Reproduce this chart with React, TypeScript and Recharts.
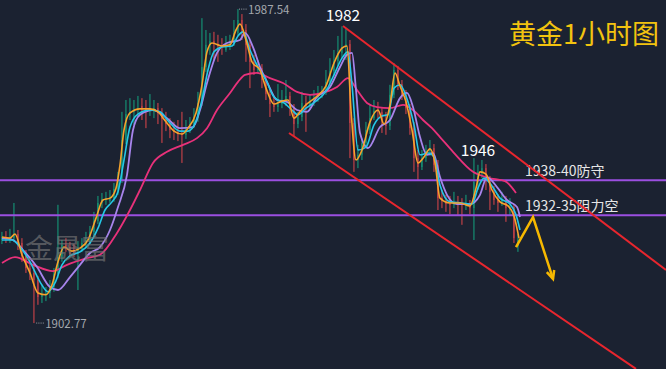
import React from 'react';
import {
  ComposedChart, Bar, Line, XAxis, YAxis, ReferenceLine, ReferenceDot,
} from 'recharts';

// ---- Candles (hourly XAUUSD), index 0..129 ----
const candleOpen = [
  1925.2, 1926.0, 1925.5, 1925.7, 1926.8, 1924.4, 1920.9, 1917.6, 1916.3, 1914.4,
  1909.8, 1910.4, 1910.9, 1912.5, 1916.0, 1920.6, 1923.9, 1923.3, 1922.5, 1922.2,
  1922.8, 1924.4, 1925.2, 1927.4, 1930.3, 1935.2, 1936.3, 1935.7, 1936.5, 1939.0,
  1941.4, 1952.2, 1959.2, 1959.8, 1960.3, 1961.4, 1960.6, 1960.3, 1960.0, 1960.8,
  1959.5, 1957.9, 1956.5, 1954.9, 1954.4, 1953.8, 1953.6, 1955.2, 1956.5, 1958.1,
  1962.2, 1971.9, 1977.9, 1978.9, 1978.1, 1977.6, 1976.5, 1977.3, 1978.4, 1981.1,
  1984.6, 1981.9, 1977.9, 1973.3, 1971.1, 1971.6, 1968.4, 1964.6, 1961.9, 1961.1,
  1961.9, 1963.0, 1964.1, 1960.8, 1956.5, 1958.4, 1962.2, 1961.4, 1962.5, 1963.5,
  1964.6, 1965.4, 1967.9, 1970.8, 1973.5, 1975.7, 1977.3, 1978.1, 1956.8, 1946.8,
  1948.2, 1951.4, 1954.9, 1958.1, 1960.0, 1959.8, 1957.6, 1956.0, 1964.4, 1971.1,
  1967.3, 1964.4, 1960.8, 1955.4, 1947.3, 1944.9, 1947.3, 1949.2, 1950.0, 1945.5,
  1936.5, 1935.7, 1934.9, 1934.7, 1935.5, 1935.2, 1934.7, 1934.9, 1933.8, 1940.9,
  1943.6, 1944.6, 1941.4, 1938.2, 1936.0, 1935.2, 1936.0, 1933.8, 1934.1, 1923.6,
];
const candleHigh = [
  1927.4, 1927.6, 1928.2, 1935.2, 1927.9, 1925.7, 1922.5, 1919.3, 1918.2, 1915.5,
  1913.1, 1912.5, 1914.4, 1917.6, 1934.7, 1925.2, 1925.7, 1924.7, 1924.1, 1924.9,
  1925.7, 1927.4, 1929.0, 1932.8, 1937.1, 1937.9, 1938.2, 1938.7, 1940.6, 1943.6,
  1959.8, 1963.0, 1963.5, 1963.0, 1964.1, 1963.5, 1963.0, 1964.6, 1963.0, 1962.2,
  1960.8, 1959.8, 1958.1, 1957.1, 1957.6, 1959.8, 1957.6, 1958.4, 1960.8, 1965.2,
  1985.1, 1981.9, 1981.1, 1981.4, 1980.6, 1979.7, 1980.3, 1980.6, 1984.6, 1987.54,
  1986.2, 1983.5, 1979.2, 1975.2, 1973.8, 1972.7, 1969.5, 1966.2, 1964.1, 1967.3,
  1965.7, 1968.4, 1965.2, 1961.9, 1959.8, 1965.2, 1964.1, 1964.4, 1965.7, 1966.8,
  1966.8, 1971.1, 1974.3, 1976.5, 1980.3, 1982.9, 1982.4, 1979.2, 1958.1, 1950.9,
  1952.7, 1957.1, 1961.7, 1963.0, 1962.5, 1960.8, 1959.8, 1967.1, 1973.0, 1972.2,
  1968.4, 1965.7, 1961.9, 1957.1, 1949.5, 1949.5, 1950.9, 1952.2, 1951.1, 1946.8,
  1938.7, 1937.4, 1937.1, 1938.2, 1937.1, 1936.5, 1937.4, 1936.0, 1947.3, 1945.5,
  1946.8, 1945.7, 1942.5, 1939.8, 1937.6, 1938.2, 1937.1, 1936.5, 1934.9, 1926.8,
];
const candleLow = [
  1924.1, 1924.4, 1924.4, 1924.7, 1922.5, 1919.3, 1916.3, 1914.4, 1902.77, 1907.7,
  1908.2, 1908.7, 1909.5, 1911.2, 1914.9, 1919.3, 1922.0, 1920.9, 1920.6, 1911.7,
  1922.0, 1923.0, 1924.1, 1926.3, 1929.5, 1933.8, 1934.7, 1935.2, 1935.5, 1937.4,
  1940.6, 1951.1, 1957.6, 1956.3, 1958.4, 1957.6, 1955.4, 1958.7, 1958.1, 1956.5,
  1951.4, 1954.6, 1952.7, 1952.2, 1951.9, 1946.0, 1952.5, 1954.1, 1955.4, 1957.1,
  1961.4, 1970.6, 1975.2, 1973.8, 1973.3, 1975.2, 1976.0, 1976.5, 1977.6, 1980.3,
  1979.2, 1973.3, 1966.2, 1969.8, 1970.0, 1966.2, 1963.0, 1958.4, 1959.8, 1959.8,
  1960.8, 1961.4, 1958.7, 1953.0, 1955.4, 1957.3, 1954.4, 1960.3, 1961.4, 1962.5,
  1963.5, 1964.4, 1966.8, 1969.5, 1972.2, 1974.3, 1973.8, 1947.3, 1943.6, 1944.6,
  1946.8, 1950.0, 1953.8, 1957.6, 1958.1, 1954.1, 1953.6, 1954.9, 1963.5, 1965.7,
  1963.0, 1959.2, 1953.6, 1943.6, 1941.4, 1944.1, 1946.3, 1947.9, 1943.6, 1933.3,
  1933.8, 1932.8, 1932.2, 1933.8, 1932.0, 1929.3, 1933.3, 1932.2, 1925.2, 1938.7,
  1941.9, 1938.7, 1933.3, 1934.7, 1932.8, 1934.4, 1930.1, 1932.0, 1924.4, 1922.0,
];
const candleClose = [
  1926.0, 1925.7, 1925.7, 1926.8, 1924.4, 1920.9, 1917.6, 1916.3, 1914.4, 1909.8,
  1910.4, 1910.9, 1912.5, 1916.0, 1920.6, 1923.9, 1923.3, 1922.5, 1922.2, 1922.8,
  1924.4, 1925.2, 1927.4, 1930.3, 1935.2, 1936.3, 1936.5, 1936.5, 1939.0, 1941.4,
  1952.2, 1959.2, 1959.8, 1960.3, 1960.6, 1960.6, 1960.3, 1960.8, 1960.8, 1959.5,
  1957.9, 1956.5, 1954.9, 1954.4, 1953.8, 1953.6, 1955.2, 1956.5, 1958.1, 1962.2,
  1971.9, 1977.9, 1978.9, 1978.1, 1977.6, 1977.3, 1977.3, 1978.4, 1981.1, 1984.6,
  1981.9, 1977.9, 1973.3, 1971.1, 1971.6, 1968.4, 1964.6, 1961.9, 1961.1, 1961.9,
  1963.0, 1964.1, 1960.8, 1956.5, 1958.4, 1962.2, 1961.4, 1962.5, 1963.5, 1964.6,
  1965.4, 1967.9, 1970.8, 1973.5, 1975.7, 1977.3, 1978.1, 1956.8, 1946.8, 1948.2,
  1951.4, 1954.9, 1958.1, 1960.0, 1959.8, 1957.6, 1956.0, 1964.4, 1971.1, 1967.3,
  1964.4, 1960.8, 1955.4, 1947.3, 1944.9, 1947.3, 1949.2, 1950.0, 1945.5, 1936.5,
  1935.7, 1934.9, 1934.7, 1935.5, 1935.2, 1934.7, 1934.9, 1933.8, 1940.9, 1943.6,
  1944.6, 1941.4, 1938.2, 1936.0, 1935.2, 1936.0, 1933.8, 1934.1, 1925.7, 1925.2,
];

// ---- Moving averages (at key points: bar index, price) ----
const maFastT = [0, 2, 3.25, 5, 7, 9, 11, 12.5, 14, 15.5, 17.5, 19.5, 21.5, 23.5, 25.25, 27, 28.5, 29.5, 30.5, 32, 34.5, 37, 39, 41, 43, 45, 46.5, 48.5, 50, 51.25, 52.5, 55, 57, 58.5, 59.5, 61, 62.5, 64.5, 66, 68, 70, 71.5, 73, 74.5, 76, 78.5, 81, 83, 85, 86.25, 87.25, 88.5, 90, 92, 94, 95.5, 97, 98.25, 99.5, 101, 102.5, 104, 105.5, 107, 108.25, 109.5, 112, 114.5, 117, 118.5, 119.5, 121, 122.5, 124.5, 126.5, 128, 129.25];
const maFastV = [1926.0, 1925.7, 1926.8, 1921.2, 1916.3, 1910.9, 1910.4, 1913.1, 1919.3, 1923.3, 1922.2, 1923.0, 1925.2, 1931.1, 1936.0, 1936.5, 1939.2, 1945.5, 1954.9, 1959.5, 1960.6, 1960.6, 1959.8, 1957.1, 1954.6, 1953.8, 1955.4, 1959.5, 1967.1, 1976.0, 1978.4, 1977.6, 1977.9, 1981.9, 1983.5, 1979.2, 1973.3, 1971.1, 1966.2, 1961.9, 1962.7, 1963.0, 1958.1, 1959.8, 1961.7, 1963.8, 1966.8, 1973.0, 1977.0, 1977.6, 1960.3, 1946.8, 1949.5, 1957.1, 1960.3, 1956.5, 1961.7, 1970.3, 1966.8, 1962.5, 1954.9, 1946.0, 1947.6, 1949.8, 1946.0, 1936.5, 1935.2, 1935.2, 1934.4, 1939.2, 1943.6, 1943.0, 1938.7, 1935.5, 1934.4, 1931.7, 1925.7];

const maMidT = [0, 2.5, 4.5, 7, 9.5, 11.5, 13.25, 15, 17, 19.5, 22, 24, 25.75, 27.5, 29, 30.5, 32, 34, 37, 39.5, 42, 44.5, 46.5, 48.5, 50, 51.5, 53, 55, 57.5, 59, 60.25, 62, 64, 66, 68, 70.5, 72.5, 74, 76, 78.5, 81, 83, 85, 86.5, 87.5, 89, 91, 93, 95, 96.5, 98, 99.5, 101, 103, 104.5, 106.5, 108, 109.5, 112, 115, 117.5, 119, 120.5, 122.5, 124.5, 127, 128.5, 129.5];
const maMidV = [1925.2, 1925.2, 1923.3, 1919.3, 1913.9, 1911.2, 1913.6, 1918.5, 1920.9, 1922.0, 1924.4, 1928.4, 1933.3, 1935.5, 1938.2, 1946.8, 1955.7, 1959.2, 1960.3, 1959.8, 1956.8, 1954.6, 1954.6, 1957.3, 1963.0, 1971.1, 1976.0, 1977.3, 1977.6, 1980.3, 1981.4, 1976.5, 1971.9, 1968.4, 1963.8, 1962.2, 1960.3, 1959.0, 1960.8, 1962.7, 1965.4, 1969.8, 1974.3, 1976.0, 1967.1, 1949.5, 1950.3, 1956.3, 1958.7, 1959.0, 1966.2, 1967.1, 1964.1, 1956.3, 1948.2, 1948.7, 1947.6, 1940.0, 1935.5, 1935.2, 1934.9, 1939.2, 1941.9, 1939.8, 1936.5, 1934.9, 1932.0, 1927.9];

const maSlowT = [0, 2.75, 5.25, 8.75, 12, 14, 17, 19.5, 22, 24.5, 27, 29, 31.25, 32.75, 34.5, 37.75, 41.25, 44.5, 47.75, 49.5, 51.25, 53.75, 56.25, 59.5, 60.75, 62.75, 64.5, 66.25, 68.75, 71.25, 73.75, 76.25, 78.75, 82, 84.5, 86.25, 87.5, 88.5, 89.5, 91.5, 94.5, 97, 99.5, 101.25, 102.75, 104.5, 106.25, 107.75, 109.5, 111.25, 113.75, 117, 119.5, 121.25, 123.75, 126.25, 128.75, 129.5];
const maSlowV = [1925.7, 1925.2, 1922.5, 1917.9, 1912.5, 1911.7, 1915.2, 1918.5, 1921.7, 1923.3, 1927.9, 1934.1, 1942.8, 1954.9, 1959.0, 1960.3, 1958.1, 1955.4, 1955.7, 1960.3, 1967.6, 1975.7, 1978.4, 1979.2, 1981.1, 1977.3, 1971.9, 1967.9, 1963.0, 1962.5, 1960.3, 1959.8, 1963.8, 1966.5, 1971.9, 1975.2, 1975.7, 1965.7, 1954.1, 1950.0, 1955.7, 1957.6, 1963.5, 1964.9, 1961.1, 1953.0, 1948.2, 1948.7, 1942.2, 1937.4, 1934.9, 1934.9, 1937.4, 1942.2, 1939.5, 1936.0, 1934.1, 1931.4];

const maLongT = [0, 3.25, 7.75, 12.75, 16.25, 21.25, 24.5, 28.75, 32, 34.5, 37.75, 41.25, 45.25, 48.75, 51.25, 53.75, 57, 59, 60.75, 63.75, 67, 70.25, 73.75, 77, 80.25, 83.75, 86.5, 88.75, 91.25, 93.75, 97, 100.25, 102.75, 105.25, 107.5, 109.5, 112.75, 117.75, 121.5, 125.75, 128.5];
const maLongV = [1919.0, 1920.6, 1918.5, 1916.8, 1918.5, 1920.3, 1921.2, 1927.1, 1933.3, 1938.7, 1946.0, 1949.0, 1950.9, 1952.7, 1955.4, 1960.3, 1964.9, 1967.9, 1969.8, 1970.3, 1968.9, 1967.6, 1965.2, 1964.4, 1964.9, 1966.5, 1968.9, 1965.7, 1962.2, 1961.1, 1960.8, 1961.7, 1960.3, 1957.6, 1955.4, 1953.0, 1949.0, 1943.6, 1942.0, 1941.1, 1937.9];

// ---- Annotations ----
const defenseLevel = 1941.3;     // 1938-40防守
const resistLevel = 1931.9;      // 1932-35阻力空
const channelUpper = [{ t: 85.25, p: 1983.0 }, { t: 166, p: 1917.1 }];
const channelLower = [{ t: 71.75, p: 1954.1 }, { t: 158.5, p: 1890.4 }];
const arrowT = [128.5, 132.75, 137.75];
const arrowV = [1923.3, 1931.4, 1914.7];
const arrowHeadT = [138.05, 137.75, 136.2];
const arrowHeadV = [1917.1, 1914.7, 1916.5];

const GREEN = '#14a37f';
const RED = '#e0464b';
const BG = '#1b2231';

const candles = candleOpen.map((o, i) => ({
  t: i, o, h: candleHigh[i], l: candleLow[i], c: candleClose[i],
  range: [candleLow[i], candleHigh[i]],
}));
const pts = (ts: number[], vs: number[]) => ts.map((t, k) => ({ t, v: vs[k] }));

const Candle = (props: any) => {
  let { x, y, width, height, payload } = props;
  if (height < 0) { y += height; height = -height; }
  const { o, h, l, c } = payload;
  const ratio = height / (h - l || 1);
  const up = c >= o;
  const color = up ? GREEN : RED;
  const top = y + (h - Math.max(o, c)) * ratio;
  const bh = Math.max(1, Math.abs(o - c) * ratio);
  const cx = x + width / 2;
  return (
    <g>
      <line x1={cx} x2={cx} y1={y} y2={y + height} stroke={color} strokeWidth={1} />
      <rect x={x} y={top} width={width} height={bh} fill={color} />
    </g>
  );
};

const FONT = '"Noto Sans CJK SC", "Noto Sans", sans-serif';

const PriceTag = (props: any) => {
  const vb = props.viewBox || {};
  const cx = vb.x + (vb.width || 0) / 2;
  const cy = vb.y + (vb.height || 0) / 2;
  return (
    <g>
      <line x1={cx + 1} x2={cx + 9} y1={cy} y2={cy} stroke="#9aa0a8" strokeDasharray="1 1.2" />
      <text x={cx + 10} y={cy + 5} fill="#a3a7ad" fontSize={11.5} fontFamily={FONT}>{props.text}</text>
    </g>
  );
};

const LevelLabel = (props: any) => {
  const vb = props.viewBox || {};
  return (
    <text x={vb.x + 525} y={vb.y - 4} fill="#e6e6e6" fontSize={14} fontFamily={FONT}>{props.text}</text>
  );
};

const lineProps = { dot: false, activeDot: false, isAnimationActive: false } as const;

export default function App() {
  return (
    <div style={{ position: 'absolute', left: 0, top: 0, width: 666, height: 369, background: BG, overflow: 'hidden' }}>
      <ComposedChart width={666} height={369} data={candles} margin={{ top: 0, right: 0, bottom: 0, left: 0 }}>
        <XAxis dataKey="t" type="number" domain={[-0.5, 166]} hide allowDataOverflow />
        <YAxis type="number" domain={[1890.37, 1990]} hide allowDataOverflow />
        <ReferenceLine y={defenseLevel} stroke="#9b4fe0" strokeWidth={2}
          label={(p: any) => <LevelLabel {...p} text="1938-40防守" />} />
        <ReferenceLine y={resistLevel} stroke="#9b4fe0" strokeWidth={2}
          label={(p: any) => <LevelLabel {...p} text="1932-35阻力空" />} />
        <ReferenceLine segment={[{ x: channelUpper[0].t, y: channelUpper[0].p }, { x: channelUpper[1].t, y: channelUpper[1].p }]}
          stroke="#e8262e" strokeWidth={2} ifOverflow="visible" />
        <ReferenceLine segment={[{ x: channelLower[0].t, y: channelLower[0].p }, { x: channelLower[1].t, y: channelLower[1].p }]}
          stroke="#e8262e" strokeWidth={2} ifOverflow="visible" />
        <Bar dataKey="range" barSize={3} shape={Candle} isAnimationActive={false} />
        <Line data={pts(maLongT, maLongV)} dataKey="v" type="monotone" stroke="#e8317a" strokeWidth={1.8} {...lineProps} />
        <Line data={pts(maSlowT, maSlowV)} dataKey="v" type="monotone" stroke="#a784ec" strokeWidth={1.8} {...lineProps} />
        <Line data={pts(maMidT, maMidV)} dataKey="v" type="monotone" stroke="#25c8e6" strokeWidth={1.6} {...lineProps} />
        <Line data={pts(maFastT, maFastV)} dataKey="v" type="monotone" stroke="#f7a32c" strokeWidth={1.6} {...lineProps} />
        <Line data={pts(arrowT, arrowV)} dataKey="v" type="linear" stroke="#f6b800" strokeWidth={2.5} {...lineProps} />
        <Line data={pts(arrowHeadT, arrowHeadV)} dataKey="v" type="linear" stroke="#f6b800" strokeWidth={2.5} {...lineProps} />
        <ReferenceDot x={59} y={1987.54} r={0} label={(p: any) => <PriceTag {...p} text="1987.54" />} />
        <ReferenceDot x={8.3} y={1902.77} r={0} label={(p: any) => <PriceTag {...p} text="1902.77" />} />
        <ReferenceDot x={85.25} y={1983.0} r={0} label={{ value: '1982', position: 'top', fill: '#ffffff', fontSize: 15.5, fontFamily: FONT }} />
        <ReferenceDot x={119} y={1946.5} r={0} label={{ value: '1946', position: 'top', fill: '#ffffff', fontSize: 15.5, fontFamily: FONT }} />
      </ComposedChart>
      <div style={{ position: 'absolute', left: 509, top: 19, color: '#f2c30f', fontSize: 27, fontFamily: FONT, lineHeight: 1, whiteSpace: 'nowrap' }}>黄金1小时图</div>
      <div style={{ position: 'absolute', left: 25, top: 233, color: 'rgba(120,120,120,0.65)', fontSize: 28, fontFamily: FONT, lineHeight: 1, whiteSpace: 'nowrap' }}>金晟富</div>
    </div>
  );
}
